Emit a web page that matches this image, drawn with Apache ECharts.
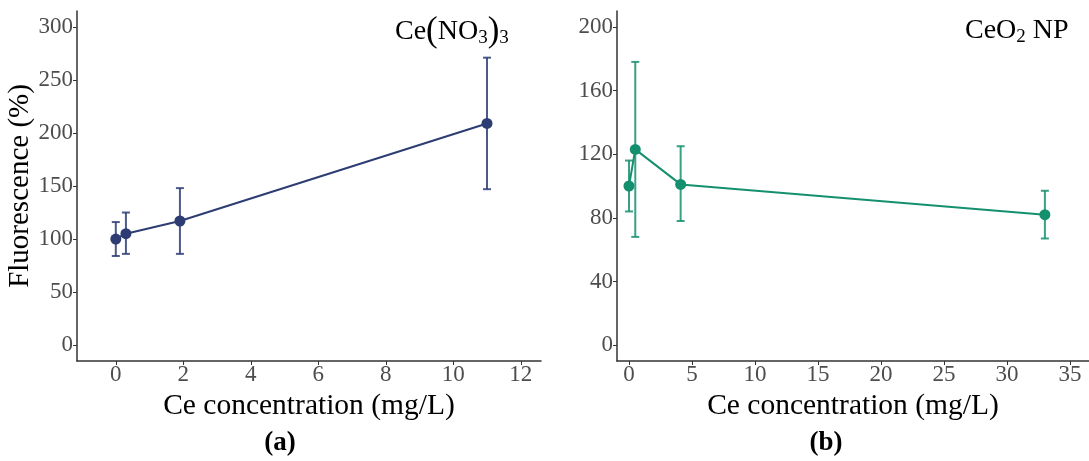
<!DOCTYPE html>
<html>
<head>
<meta charset="utf-8">
<script src="https://cdn.jsdelivr.net/npm/echarts@6/dist/echarts.min.js"></script>
<style>
  html, body { margin: 0; padding: 0; background: #fff; }
  #chart { width: 1089px; height: 461px; }
</style>
</head>
<body>
<div id="chart"></div>
<script>
// panel (a): Ce(NO3)3
const concA = [0, 0.3, 1.9, 11]
const meanA = [100, 105, 117, 209]
const lowA = [84, 86, 86, 147]
const highA = [116, 125, 148, 271]
const xTicksA = [0, 2, 4, 6, 8, 10, 12]
const yTicksA = [0, 50, 100, 150, 200, 250, 300]

// panel (b): CeO2 NP
const concB = [0, 0.5, 4.1, 33]
const meanB = [100, 123, 101, 82]
const lowB = [84, 68, 78, 67]
const highB = [116, 178, 125, 97]
const xTicksB = [0, 5, 10, 15, 20, 25, 30, 35]
const yTicksB = [0, 40, 80, 120, 160, 200]

const colorA = '#2d3d73'
const colorB = '#15906f'
const font = 'Liberation Serif'

const chart = echarts.init(document.getElementById('chart'))

const points = (xs, ys) => xs.map((x, i) => [x, ys[i]])
const bars = (xs, lo, hi) => xs.map((x, i) => [x, lo[i], hi[i]])

const errorSeries = (idx, data, color) => ({
  type: 'custom',
  xAxisIndex: idx,
  yAxisIndex: idx,
  data: data,
  z: 1,
  renderItem: (params, api) => {
    const top = api.coord([api.value(0), api.value(2)])
    const bot = api.coord([api.value(0), api.value(1)])
    const w = 4
    const style = { stroke: color, lineWidth: 2, opacity: 0.85 }
    return {
      type: 'group',
      children: [
        { type: 'line', shape: { x1: top[0], y1: top[1], x2: bot[0], y2: bot[1] }, style },
        { type: 'line', shape: { x1: top[0] - w, y1: top[1], x2: top[0] + w, y2: top[1] }, style },
        { type: 'line', shape: { x1: bot[0] - w, y1: bot[1], x2: bot[0] + w, y2: bot[1] }, style }
      ]
    }
  }
})

const lineSeries = (idx, data, color) => ({
  type: 'line',
  xAxisIndex: idx,
  yAxisIndex: idx,
  data: data,
  z: 2,
  symbol: 'circle',
  symbolSize: 11,
  itemStyle: { color: color },
  lineStyle: { color: color, width: 2 }
})

const axisLine = { show: true, onZero: false, lineStyle: { color: '#333', width: 1.5 } }
const labelStyle = { color: '#4d4d4d', fontFamily: font, fontSize: 23 }

const xAxis = (idx, min, max, ticks) => ({
  type: 'value',
  gridIndex: idx,
  min, max,
  axisLine,
  splitLine: { show: false },
  axisTick: { show: true, length: 4, lineStyle: { color: '#333' }, customValues: ticks },
  axisLabel: { ...labelStyle, margin: 2, customValues: ticks },
  name: 'Ce concentration (mg/L)',
  nameLocation: 'middle',
  nameGap: 2,
  nameTextStyle: { color: '#000', fontFamily: font, fontSize: 29.5 }
})

const yAxis = (idx, min, max, ticks, title) => ({
  type: 'value',
  gridIndex: idx,
  min, max,
  axisLine,
  splitLine: { show: false },
  axisTick: { show: true, length: 4, lineStyle: { color: '#333' }, customValues: ticks },
  axisLabel: { ...labelStyle, margin: 4, customValues: ticks },
  name: title,
  nameLocation: 'middle',
  nameGap: 35,
  nameTextStyle: { color: '#000', fontFamily: font, fontSize: 29 }
})

const sub = { fontFamily: font, fontSize: 19, lineHeight: 19, padding: [14, 0, 0, 0] }

chart.setOption({
  animation: false,
  grid: [
    { left: 77, top: 11, width: 464, height: 350 },
    { left: 617, top: 11, width: 472, height: 350 }
  ],
  xAxis: [
    xAxis(0, -1.15, 12.6, xTicksA),
    xAxis(1, -0.95, 36.5, xTicksB)
  ],
  yAxis: [
    yAxis(0, -15, 315, yTicksA, 'Fluorescence (%)'),
    yAxis(1, -10, 210, yTicksB, '')
  ],
  series: [
    errorSeries(0, bars(concA, lowA, highA), colorA),
    lineSeries(0, points(concA, meanA), colorA),
    errorSeries(1, bars(concB, lowB, highB), colorB),
    lineSeries(1, points(concB, meanB), colorB)
  ],
  graphic: [
    {
      type: 'text', left: 395, top: 14,
      style: {
        text: '{n|Ce}{p|(}{n|NO}{s|3}{p|)}{s|3}',
        fill: '#000',
        rich: {
          n: { fontFamily: font, fontSize: 28, lineHeight: 36 },
          p: { fontFamily: font, fontSize: 35, lineHeight: 38 },
          s: sub
        }
      }
    },
    {
      type: 'text', left: 965, top: 14,
      style: {
        text: '{n|CeO}{s|2}{n| NP}',
        fill: '#000',
        rich: {
          n: { fontFamily: font, fontSize: 28, lineHeight: 36 },
          s: sub
        }
      }
    },
    {
      type: 'text', x: 280, y: 443,
      style: { text: '(a)', fill: '#000', font: 'bold 27px "Liberation Serif"', align: 'center', verticalAlign: 'middle' }
    },
    {
      type: 'text', x: 826, y: 443,
      style: { text: '(b)', fill: '#000', font: 'bold 27px "Liberation Serif"', align: 'center', verticalAlign: 'middle' }
    }
  ]
})
</script>
</body>
</html>
